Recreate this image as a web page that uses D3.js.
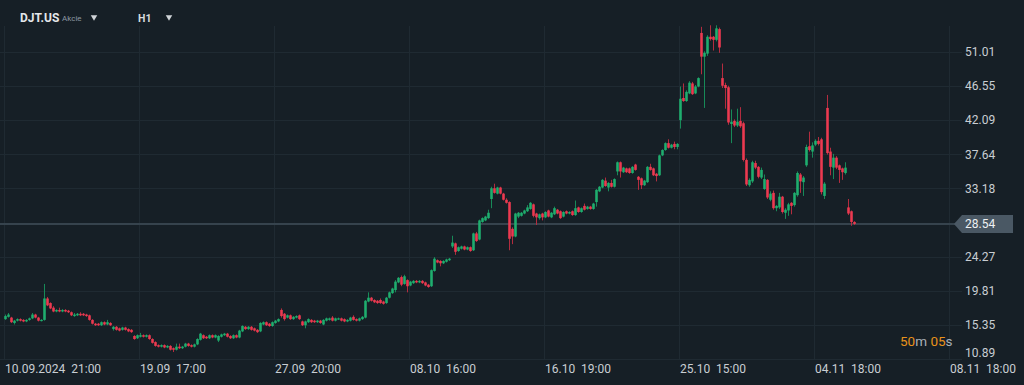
<!DOCTYPE html>
<html>
<head>
<meta charset="utf-8">
<script src="https://cdn.jsdelivr.net/npm/d3@7"></script>
<style>
html, body { margin: 0; padding: 0; background: #161f26; }
svg { display: block; font-family: Roboto, 'Noto Sans', sans-serif; }
text { white-space: pre; }
</style>
</head>
<body>
<svg id="chart" width="1024" height="385"></svg>
<script>
// H1 candles, [open, high, low, close], one array per 45-bar stretch
let seg1 = [
  [16.1,16.7,16.0,16.5],[16.4,16.9,16.3,16.7],[16.3,16.4,15.6,15.7],[15.6,16.0,15.4,15.9],[15.9,16.2,15.8,16.1],
  [16.1,16.2,15.8,15.9],[16.0,16.1,15.7,15.8],[15.8,16.1,15.7,16.0],[16.0,16.3,15.9,16.2],[16.2,16.9,16.1,16.7],
  [16.7,16.8,16.2,16.3],[16.3,16.4,15.8,15.9],[15.9,16.1,15.8,16.0],[16.0,20.7,15.9,18.8],[18.8,19.0,17.8,17.9],
  [18.2,18.3,17.4,17.5],[17.6,17.8,17.0,17.1],[17.1,17.4,17.0,17.3],[17.3,17.6,17.0,17.1],[17.1,17.4,17.0,17.3],
  [17.3,17.4,17.0,17.1],[17.2,17.3,16.9,17.0],[17.0,17.1,16.5,16.6],[16.5,16.9,16.4,16.7],[16.6,16.9,16.5,16.8],
  [16.8,17.0,16.5,16.6],[16.8,16.9,16.5,16.6],[16.7,16.8,16.4,16.5],[16.6,16.7,15.9,16.0],[16.0,16.1,15.4,15.5],
  [15.5,15.6,15.2,15.3],[15.5,15.6,15.2,15.3],[15.3,15.8,15.2,15.7],[15.7,15.8,15.3,15.4],[15.4,16.0,15.3,15.7],
  [15.6,15.7,15.2,15.3],[14.8,15.2,14.6,15.1],[15.1,15.2,14.6,14.7],[14.9,15.0,14.5,14.6],[14.7,15.1,14.6,15.0],
  [15.0,15.1,14.6,14.7],[14.8,14.9,14.4,14.5],[14.7,14.8,14.3,14.4],[13.9,14.0,13.4,13.5],[13.6,14.1,13.5,14.0]
]
let seg2 = [
  [13.8,14.3,13.7,14.0],[14.0,14.1,13.7,13.8],[13.8,14.1,13.7,14.0],[14.0,14.1,13.4,13.5],[13.5,13.6,12.9,13.0],
  [13.1,13.2,12.5,12.6],[12.7,12.8,12.4,12.5],[12.5,12.8,12.4,12.7],[12.7,12.8,12.3,12.4],[12.4,12.7,12.3,12.6],
  [12.6,12.7,12.0,12.1],[12.3,12.4,11.8,12.1],[12.1,12.9,12.0,12.5],[12.5,12.9,12.2,12.3],[12.3,12.6,12.2,12.5],
  [12.5,13.0,12.4,12.9],[12.9,13.0,12.5,12.6],[12.7,12.8,12.4,12.5],[12.5,12.9,12.4,12.8],[12.8,13.6,12.7,13.5],
  [13.4,14.3,13.3,14.2],[14.0,14.1,13.5,13.6],[13.8,13.9,13.5,13.6],[13.6,14.1,13.5,14.0],[14.0,14.1,13.6,13.7],
  [13.7,14.1,13.6,14.0],[13.3,14.0,13.1,13.9],[13.8,14.2,13.7,14.1],[14.0,14.3,13.9,14.2],[14.2,14.3,13.7,13.8],
  [13.9,14.0,13.5,13.6],[13.6,14.1,13.5,14.0],[14.0,14.1,13.6,13.7],[13.7,14.7,13.6,14.6],[14.5,15.3,14.4,15.2],
  [15.1,15.2,14.7,14.8],[14.8,15.2,14.7,15.1],[15.1,15.2,14.6,14.7],[14.9,15.0,14.5,14.6],[14.7,14.8,14.3,14.4],
  [14.5,15.7,14.4,15.6],[15.4,15.8,15.3,15.7],[15.7,15.8,15.2,15.3],[15.5,15.6,15.1,15.2],[15.2,15.8,15.1,15.7]
]
let seg3 = [
  [15.6,16.0,15.5,15.9],[15.8,16.2,15.7,16.1],[17.3,17.5,16.3,16.5],[16.8,16.9,15.9,16.1],[16.3,16.7,16.2,16.6],
  [16.6,16.7,16.0,16.1],[16.1,16.5,16.0,16.4],[16.3,16.6,16.2,16.5],[16.6,16.7,16.0,16.1],[15.8,15.9,15.2,15.3],
  [15.3,15.9,14.9,15.8],[15.7,16.2,15.6,16.1],[16.0,16.1,15.6,15.7],[15.9,16.0,15.6,15.7],[15.7,16.0,15.6,15.9],
  [15.9,16.0,15.5,15.6],[15.4,16.1,15.3,16.0],[15.9,16.3,15.8,16.2],[16.0,16.3,15.9,16.2],[16.3,16.5,15.8,15.9],
  [15.9,16.3,15.8,16.2],[16.1,16.3,16.0,16.2],[16.2,16.3,15.8,15.9],[16.1,16.2,15.7,15.8],[15.8,16.1,15.7,16.0],
  [15.9,16.4,15.8,16.3],[16.4,16.6,15.9,16.0],[16.1,16.2,15.8,15.9],[15.9,16.3,15.8,16.2],[16.1,16.5,16.0,16.4],
  [16.3,18.6,16.2,18.5],[18.4,19.6,18.3,18.9],[18.9,19.0,18.4,18.5],[18.6,18.7,18.2,18.3],[18.5,18.6,18.1,18.2],
  [18.6,18.8,18.1,18.2],[18.4,18.5,18.0,18.1],[18.2,19.0,18.1,18.9],[18.9,19.7,18.8,19.6],[19.5,20.2,19.4,20.1],
  [19.9,21.2,19.6,21.0],[20.9,21.6,20.8,21.5],[21.6,21.8,20.4,20.6],[20.7,21.9,20.6,21.7],[21.2,21.3,19.6,20.4]
]
let seg4 = [
  [20.5,21.1,20.4,21.0],[20.8,21.2,20.7,21.1],[21.1,21.2,20.8,20.9],[20.9,21.2,20.8,21.1],[21.1,21.2,20.7,20.8],
  [20.9,21.0,20.4,20.5],[20.6,20.7,20.2,20.3],[20.4,22.6,20.3,22.5],[22.4,24.2,22.3,24.0],[23.8,23.9,23.4,23.5],
  [23.7,23.8,23.0,23.4],[23.4,23.8,23.3,23.7],[23.6,24.0,23.5,23.9],[23.8,24.1,23.7,24.0],[25.6,27.0,25.4,26.1],
  [26.0,26.1,24.5,24.9],[25.0,25.6,24.9,25.5],[25.3,25.7,25.2,25.6],[25.6,25.7,25.1,25.2],[25.2,25.6,25.1,25.5],
  [25.5,25.6,24.9,25.0],[25.1,27.4,25.0,27.3],[27.3,27.5,26.2,26.3],[26.5,29.1,26.4,29.0],[28.8,29.4,28.7,29.3],
  [29.0,29.6,28.9,29.5],[29.3,30.4,29.2,30.0],[31.8,33.4,30.6,33.2],[33.2,33.8,32.5,32.6],[32.5,33.4,32.4,33.3],
  [33.3,33.4,32.4,32.5],[32.5,32.6,31.6,31.7],[31.7,31.9,31.2,31.3],[31.4,31.5,25.1,26.6],[27.9,28.1,25.9,26.9],
  [26.9,30.0,26.8,29.9],[29.5,30.1,29.3,30.0],[29.6,30.1,29.5,30.0],[29.9,30.4,29.8,30.3],[30.2,31.0,30.1,30.7],
  [30.5,31.4,30.4,31.3],[31.1,31.2,29.4,29.6],[29.9,30.0,28.4,29.4],[29.3,29.9,29.1,29.8],[29.9,30.0,29.0,29.4]
]
let seg5 = [
  [29.4,30.2,29.3,30.1],[30.3,30.4,29.4,29.5],[29.4,30.1,29.3,30.0],[29.8,30.8,29.7,30.6],[30.4,30.5,29.8,29.9],
  [30.2,30.3,29.2,29.3],[29.5,30.2,29.4,30.1],[30.2,30.3,29.8,29.9],[29.9,30.2,29.8,30.1],[30.2,30.3,29.6,29.7],
  [29.7,31.6,29.6,30.6],[30.7,30.8,30.0,30.1],[30.1,30.7,30.0,30.6],[30.9,31.2,30.3,30.4],[30.5,30.9,30.4,30.8],
  [30.8,30.9,30.4,30.5],[30.5,31.3,30.4,31.2],[31.4,33.1,30.8,33.0],[32.8,33.5,32.7,33.4],[33.3,34.4,33.2,34.3],
  [34.2,34.6,33.4,33.5],[33.3,34.0,32.8,33.9],[33.9,34.3,33.3,33.4],[33.4,34.5,33.3,34.4],[35.4,36.7,34.9,36.6],
  [36.6,36.7,34.6,35.4],[35.3,36.0,35.2,35.9],[35.8,35.9,35.2,35.3],[35.8,35.9,35.1,35.2],[35.2,36.1,35.1,36.0],
  [36.3,36.4,35.5,35.6],[34.7,34.8,33.0,34.3],[34.5,34.6,33.1,33.6],[33.6,34.3,33.5,34.2],[34.0,36.1,33.9,36.0],
  [36.0,36.4,35.5,35.6],[35.8,35.9,34.8,34.9],[35.1,35.2,34.1,34.8],[34.9,37.6,34.8,37.5],[37.5,38.3,37.4,38.2],
  [38.2,39.2,38.1,39.1],[39.1,39.6,38.4,38.5],[38.5,39.0,38.4,38.9],[39.0,39.3,38.3,38.6],[38.6,39.1,38.3,39.0]
]
let seg6 = [
  [42.1,46.5,41.0,44.9],[45.0,46.9,44.5,44.6],[44.6,46.0,44.5,45.8],[45.6,47.2,45.5,47.0],[46.9,47.1,45.4,45.5],
  [45.6,46.7,45.5,46.5],[46.5,47.7,46.4,47.6],[53.5,54.3,48.1,50.4],[50.4,51.1,43.7,50.9],[50.8,53.2,50.5,53.0],
  [53.0,54.5,52.5,52.7],[53.0,53.1,51.2,52.6],[52.6,54.5,52.4,54.1],[54.0,54.2,50.9,51.6],[47.6,49.5,46.3,46.6],
  [46.7,47.0,43.6,46.3],[46.4,46.6,41.5,41.8],[41.6,43.5,39.1,41.9],[42.0,42.2,41.2,41.4],[41.4,43.6,41.2,41.9],
  [42.0,43.8,41.1,41.3],[41.7,41.9,36.7,36.9],[36.9,37.1,33.5,33.7],[33.6,34.5,33.4,34.3],[34.1,36.8,33.9,36.6],
  [36.5,36.8,35.7,35.9],[36.0,36.1,34.5,34.7],[34.6,35.9,34.4,35.6],[33.1,35.0,33.0,34.4],[34.3,34.4,31.8,32.0],
  [31.7,32.8,31.5,32.5],[32.6,32.9,30.4,30.6],[30.6,31.0,30.2,30.9],[30.7,32.6,30.5,32.1],[32.1,32.2,29.9,30.1],
  [30.0,30.6,29.2,30.4],[30.3,31.3,29.6,31.1],[31.3,31.4,29.8,30.9],[31.0,32.7,30.8,32.6],[32.3,35.4,32.1,35.2],
  [35.0,35.2,32.6,34.1],[34.0,34.8,32.2,34.6],[36.2,38.9,36.0,38.6],[38.7,40.6,38.0,38.2],[38.0,39.2,37.2,38.8]
]
let seg7 = [
  [38.9,39.6,38.7,39.4],[39.4,39.9,38.8,39.0],[39.6,39.8,32.4,32.7],[32.2,34.0,31.8,33.8],[43.7,45.4,37.6,37.8],
  [38.0,38.5,34.9,36.0],[35.9,37.7,34.4,37.2],[37.2,37.4,35.7,35.9],[36.2,36.3,33.9,35.6],[35.8,35.9,34.3,35.3],
  [35.2,36.6,35.0,35.9],[30.7,31.8,29.7,29.9],[30.2,30.3,28.3,28.8],[28.8,28.9,28.4,28.54]
]

let price_ticks = [10.89, 15.35, 19.81, 24.27, 28.72, 33.18, 37.64, 42.09, 46.55, 51.01]
let time_ticks = [0, 45, 90, 135, 180, 225, 270, 315]
let time_labels = ['10.09.2024  21:00', '19.09  17:00', '27.09  20:00', '08.10  16:00',
                   '16.10  19:00', '25.10  15:00', '04.11  18:00', '08.11  18:00']
let last_price = 28.54
let symbol = 'DJT.US'
let asset_type = 'Akcie'
let interval = 'H1'
let countdown = [['50', 'num'], ['m ', 'unit'], ['05', 'num'], ['s', 'unit']]

let col = {
    bg: '#161f26',
    grid: '#1f2a32',
    up: '#1fae6e',
    up_wick: '#178a58',
    down: '#ec3a50',
    down_wick: '#b32c3f',
    label: '#c9ced3',
    price_line: '#36434d',
    price_box: '#4a5864',
    orange: '#e8921b'
}

let candles = [].concat(seg1, seg2, seg3, seg4, seg5, seg6, seg7)

let svg = d3.select('#chart')

svg.append('rect')
    .attr('width', 1024).attr('height', 385)
    .attr('fill', col.bg)

let x = d3.scaleLinear().domain([0, 315]).range([4, 949])
let y = d3.scaleLinear().domain([10.89, 51.01]).range([359, 52])
let step = x(1) - x(0)

// grid
svg.append('g').selectAll('line')
    .data(price_ticks)
    .join('line')
    .attr('x1', 0).attr('x2', 962)
    .attr('y1', d => Math.round(y(d)) + 0.5).attr('y2', d => Math.round(y(d)) + 0.5)
    .attr('stroke', col.grid)

svg.append('g').selectAll('line')
    .data(time_ticks)
    .join('line')
    .attr('x1', d => Math.round(x(d)) + 0.5).attr('x2', d => Math.round(x(d)) + 0.5)
    .attr('y1', 26).attr('y2', 360)
    .attr('stroke', col.grid)

// current price line
svg.append('line')
    .attr('x1', 0).attr('x2', 956)
    .attr('y1', y(last_price)).attr('y2', y(last_price))
    .attr('stroke', col.price_line)
    .attr('stroke-width', 2)

// candles
let g = svg.append('g')
let up = d => d[3] >= d[0]

g.selectAll('line')
    .data(candles)
    .join('line')
    .attr('x1', (d, i) => x(i + 0.5)).attr('x2', (d, i) => x(i + 0.5))
    .attr('y1', d => y(d[1])).attr('y2', d => y(d[2]))
    .attr('stroke', d => up(d) ? col.up_wick : col.down_wick)
    .attr('stroke-width', 1)

g.selectAll('rect')
    .data(candles)
    .join('rect')
    .attr('x', (d, i) => x(i + 0.5) - step * 0.43)
    .attr('width', step * 0.86)
    .attr('y', d => y(Math.max(d[0], d[3])))
    .attr('height', d => Math.max(1.2, Math.abs(y(d[0]) - y(d[3]))))
    .attr('fill', d => up(d) ? col.up : col.down)

// right axis labels (bottom one is lifted above the time axis)
svg.append('g').selectAll('text')
    .data(price_ticks)
    .join('text')
    .attr('x', 965)
    .attr('y', d => Math.min(y(d), 353))
    .attr('dy', '0.35em')
    .attr('font-size', 12)
    .attr('fill', col.label)
    .text(d => d.toFixed(2))

// last price marker
let py = y(last_price)
svg.append('path')
    .attr('d', `M954,${py} L962,${py - 9} L1013,${py - 9} L1013,${py + 9} L962,${py + 9} Z`)
    .attr('fill', col.price_box)
svg.append('text')
    .attr('x', 965).attr('y', py).attr('dy', '0.35em')
    .attr('font-size', 12)
    .attr('fill', '#eef1f3')
    .text(last_price.toFixed(2))

// bottom time labels
svg.append('g').selectAll('text')
    .data(time_ticks)
    .join('text')
    .attr('x', d => x(d) + 1)
    .attr('y', 373)
    .attr('font-size', 12)
    .attr('fill', col.label)
    .text((d, i) => time_labels[i])

// countdown
let cd = svg.append('text')
    .attr('x', 900).attr('y', 346)
    .attr('font-size', 13.5)
cd.selectAll('tspan')
    .data(countdown)
    .join('tspan')
    .attr('fill', d => d[1] === 'num' ? col.orange : '#a9b1b8')
    .text(d => d[0])

// toolbar
svg.append('text')
    .attr('x', 20).attr('y', 22)
    .attr('font-size', 12).attr('font-weight', 'bold')
    .attr('fill', '#e4e7ea')
    .text(symbol)
svg.append('text')
    .attr('x', 62).attr('y', 21)
    .attr('font-size', 8)
    .attr('fill', '#8c98a2')
    .text(asset_type)
svg.append('text')
    .attr('x', 138).attr('y', 22)
    .attr('font-size', 10.5).attr('font-weight', 'bold')
    .attr('fill', '#d6dade')
    .text(interval)

let tri = d3.symbol().type(d3.symbolTriangle).size(18)
svg.selectAll('.caret')
    .data([94, 169])
    .join('path')
    .attr('class', 'caret')
    .attr('d', tri)
    .attr('transform', d => `translate(${d}, 17) rotate(180)`)
    .attr('fill', '#d0d4d8')
</script>
</body>
</html>
